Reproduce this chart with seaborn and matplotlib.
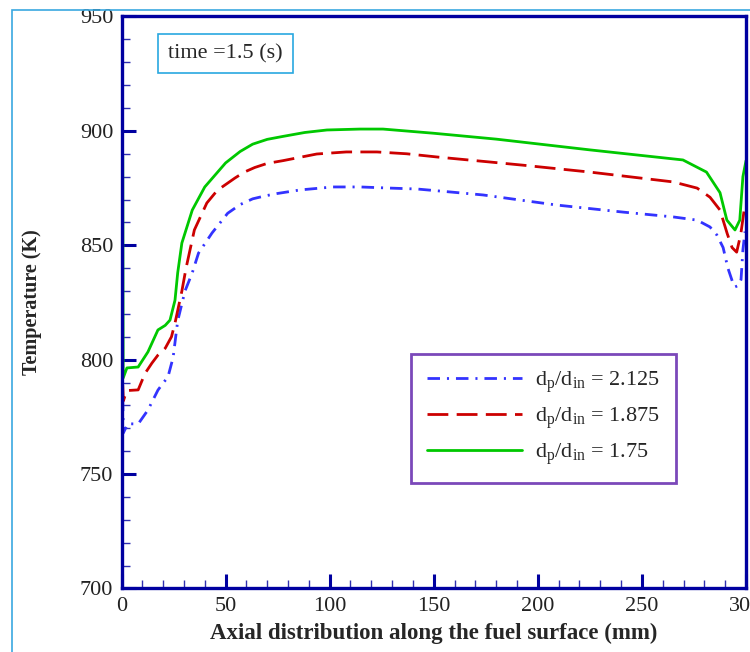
import numpy as np
import pandas as pd
import matplotlib
matplotlib.use("Agg")
import matplotlib.pyplot as plt
import seaborn as sns
from matplotlib.patches import Rectangle
from matplotlib.ticker import MultipleLocator

# Temperature along the fuel surface, time = 1.5 s
x_green = [0.6, 0.8, 2.6, 8, 12.7, 17.5, 21, 23.3, 25.7, 27, 29, 34, 40, 50, 57, 63, 70,
           77.6, 88, 98.7, 114.6, 125.6, 149.6, 180, 225, 269.7, 281, 287.5, 290.8,
           294.7, 297, 298.5, 300]
t_green = [889, 792, 796.4, 796.8, 803.4, 813, 815, 817.3, 826, 838, 851, 865.4, 875.5,
           886, 891, 894.2, 896.3, 897.6, 899.3, 900.4, 900.8, 900.8, 899, 896.4, 891.7,
           887.3, 882, 873, 861, 856.7, 861, 880, 887]

x_red = [0.6, 0.9, 2.5, 8, 11.3, 14.6, 17.5, 21, 24, 25.7, 29, 31, 35, 41, 46, 54.5, 59,
         64, 70, 77.6, 93.8, 108, 122.7, 137, 151.5, 177, 193, 225, 265, 276.5, 282.7,
         287.5, 291, 293.3, 295.5, 297.5, 299.5]
t_red = [789, 782, 786.5, 786.8, 794, 798.5, 802, 805, 810, 816, 830, 840, 856.7, 868.5,
         874, 879.4, 882, 884, 885.8, 887, 889.9, 890.8, 890.8, 890, 888.6, 886.4, 885,
         882, 877.7, 875, 871, 865.4, 855, 849, 847, 855, 868]

x_blue = [0.6, 0.9, 3, 8, 12.7, 17.5, 20, 22.3, 24.8, 27, 30.5, 34, 37, 43.5, 51, 57, 63,
          69, 74.6, 85.8, 101.6, 114.6, 129, 142, 158, 173.7, 209, 241, 265, 276.5, 282.7,
          286, 289, 291.3, 293.7, 294.7, 296.5, 297.6, 298.5, 299.5]
t_blue = [783, 768, 772, 771.9, 778, 786.7, 789.8, 792.4, 801, 817, 830, 838, 846.6,
          855.4, 864, 867.8, 870.3, 871.6, 872.6, 874.2, 875.5, 875.5, 875, 874.6, 873.3,
          872, 867.6, 864.5, 862.4, 861, 858, 854.5, 849, 840, 833.5, 831.8, 832.5, 835,
          848, 856]

labels = [r"d$_\mathregular{p}$/d$_\mathregular{in}$ = 2.125",
          r"d$_\mathregular{p}$/d$_\mathregular{in}$ = 1.875",
          r"d$_\mathregular{p}$/d$_\mathregular{in}$ = 1.75"]

sns.set_style("white")
plt.rcParams["font.family"] = ["Liberation Serif", "DejaVu Serif"]
plt.rcParams["mathtext.fontset"] = "custom"
plt.rcParams["mathtext.rm"] = "Liberation Serif"
plt.rcParams["lines.scale_dashes"] = False

navy = "#0000A0"
fig = plt.figure(figsize=(7.5, 6.52), dpi=100)
ax = fig.add_axes([0.162, 0.0974, 0.8327, 0.8773])

# outer light-blue frame
fig.patches.append(Rectangle((12 / 750, -0.2), 1.2, 0.2 + (1 - 10 / 652),
                             transform=fig.transFigure, fill=False,
                             edgecolor="#3AA8E0", linewidth=1.2, zorder=0))

series = [
    (x_blue, t_blue, "#3333FF", (0, (9, 5, 1.5, 5)), labels[0]),
    (x_red, t_red, "#CC0000", (0, (15, 6)), labels[1]),
    (x_green, t_green, "#00C800", "-", labels[2]),
]
for xs, ts, col, ls, lab in series:
    df = pd.DataFrame({"x": xs, "T": ts})
    sns.lineplot(data=df, x="x", y="T", ax=ax, color=col, linestyle=ls,
                 linewidth=2.0, sort=False, estimator=None, label=lab)

ax.set_xlim(0, 300)
ax.set_ylim(700, 950)
ax.xaxis.set_major_locator(MultipleLocator(50))
ax.xaxis.set_minor_locator(MultipleLocator(10))
ax.yaxis.set_major_locator(MultipleLocator(50))
ax.yaxis.set_minor_locator(MultipleLocator(10))
ax.tick_params(axis="x", which="both", bottom=True, top=False)
ax.tick_params(axis="y", which="both", left=True, right=False)
ax.tick_params(which="major", direction="in", length=10, width=2.2, color=navy,
               labelsize=16, labelcolor="#222222", pad=6)
ax.tick_params(which="minor", direction="in", length=5.5, width=1.0, color="#3030B0")
for sp in ax.spines.values():
    sp.set_color(navy)
    sp.set_linewidth(2.4)

ax.set_xlabel("Axial distribution along the fuel surface (mm)", fontsize=16.5,
              fontweight="bold", labelpad=5)
ax.set_ylabel("Temperature (K)", fontsize=14.5, fontweight="bold", labelpad=27)

ax.text(0.075, 0.935, "time =1.5 (s)", transform=ax.transAxes, fontsize=16,
        va="center", ha="left",
        bbox=dict(boxstyle="square,pad=0.45", facecolor="white", edgecolor="#29A8E0",
                  linewidth=1.2))

leg = ax.legend(loc="upper left", bbox_to_anchor=(0.4636, 0.41), fontsize=16,
                frameon=True, fancybox=False, handlelength=4.3, handletextpad=0.6,
                labelspacing=0.45, borderpad=0.7, borderaxespad=0)
leg.get_frame().set_edgecolor("#5A1AA8")
leg.get_frame().set_linewidth(2.0)

fig.savefig("out.png", dpi=100)
